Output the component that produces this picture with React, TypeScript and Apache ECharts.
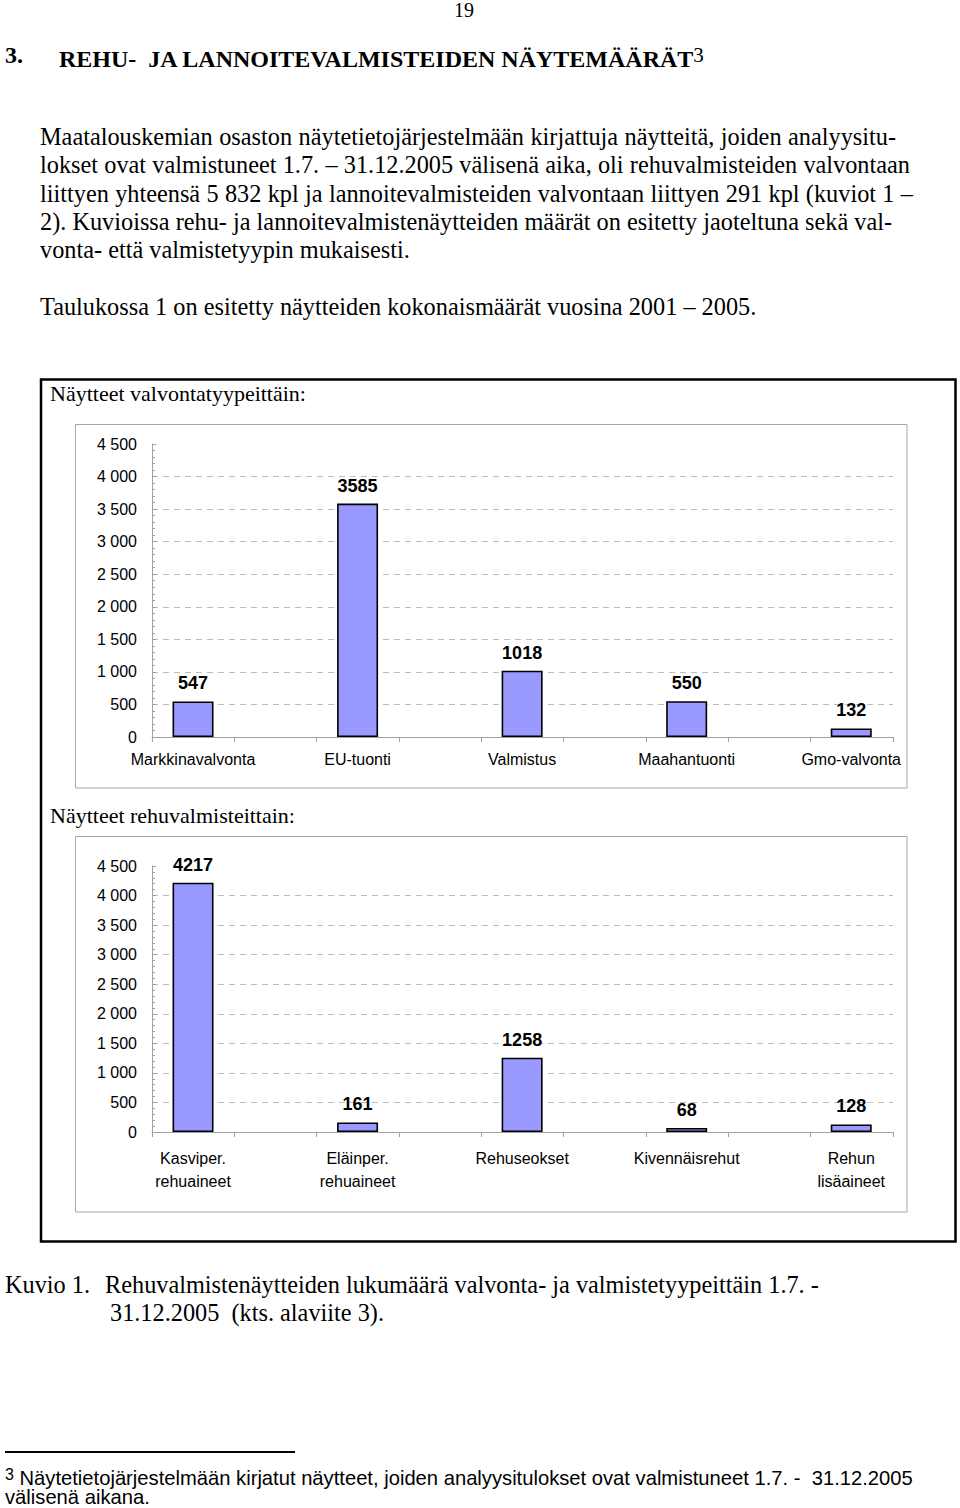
import React, { useEffect, useRef } from "react";
import * as echarts from "echarts";

// ---------- data ----------
const supervisionCategories = ["Markkinavalvonta", "EU-tuonti", "Valmistus", "Maahantuonti", "Gmo-valvonta"];
const supervisionValues = [547, 3585, 1018, 550, 132];
const productCategories = ["Kasviper.\nrehuaineet", "Eläinper.\nrehuaineet", "Rehuseokset", "Kivennäisrehut", "Rehun\nlisäaineet"];
const productValues = [4217, 161, 1258, 68, 128];
const yMin = 0;
const yMax = 4500;
const yInterval = 500;
const frameSlots = ["", "", "", "", "", "", "", "", ""];

const chartTitle1 = "Näytteet valvontatyypeittäin:";
const chartTitle2 = "Näytteet rehuvalmisteittain:";

const SERIF = "'Liberation Serif', 'Times New Roman', serif";
const SANS = "'Liberation Sans', Arial, sans-serif";

const fmt = (v: number) =>
  v >= 1000 ? `${Math.floor(v / 1000)} ${String(v % 1000).padStart(3, "0")}` : String(v);

function buildPanel(idx: number, top: number, bottom: number, cats: string[], vals: number[], labelMargin: number) {
  const H = 1508;
  const W = 960;
  const frameGrid = { left: 152, right: W - 893, top, bottom: H - bottom };
  const barGrid = { left: 110.75, right: W - 933.5, top, bottom: H - bottom };
  const gi = idx * 2;
  const lineColors = ["rgba(0,0,0,0)", ...frameSlots.slice(1).map(() => "#bdbdbd"), "rgba(0,0,0,0)", "rgba(0,0,0,0)"];
  return {
    grids: [frameGrid, barGrid],
    xAxes: [
      {
        gridIndex: gi,
        type: "category",
        data: frameSlots,
        boundaryGap: true,
        axisLine: { show: true, lineStyle: { color: "#a0a0a0", width: 1 } },
        axisTick: { show: true, length: 5, lineStyle: { color: "#a0a0a0" } },
        axisLabel: { show: false },
      },
      {
        gridIndex: gi + 1,
        type: "category",
        data: cats,
        axisLine: { show: false },
        axisTick: { show: false },
        axisLabel: {
          show: true,
          interval: 0,
          margin: labelMargin,
          color: "#000",
          fontFamily: SANS,
          fontSize: 16,
          lineHeight: 23,
        },
      },
    ],
    yAxes: [
      {
        gridIndex: gi,
        type: "value",
        min: yMin,
        max: yMax,
        interval: yInterval,
        axisLine: { show: true, lineStyle: { color: "#a0a0a0", width: 1 } },
        axisTick: { show: true, inside: true, length: 4, lineStyle: { color: "#a0a0a0" } },
        minorTick: { show: true, splitNumber: 5, length: 3, lineStyle: { color: "#a0a0a0" } },
        axisLabel: {
          margin: 15,
          color: "#000",
          fontFamily: SANS,
          fontSize: 16,
          formatter: fmt,
        },
        splitLine: { show: true, lineStyle: { color: lineColors, type: [6, 5], width: 1 } },
      },
      {
        gridIndex: gi + 1,
        type: "value",
        min: yMin,
        max: yMax,
        interval: yInterval,
        show: false,
        splitLine: { show: false },
      },
    ],
    series: [
      {
        type: "bar",
        xAxisIndex: gi + 1,
        yAxisIndex: gi + 1,
        data: vals,
        barWidth: 41,
        itemStyle: { color: "#9999ff", borderColor: "#000", borderWidth: 1.6 },
        label: {
          show: true,
          position: "top",
          distance: 9,
          color: "#000",
          fontFamily: SANS,
          fontWeight: "bold",
          fontSize: 18,
        },
      },
    ],
  };
}

function Chart() {
  const ref = useRef<HTMLDivElement>(null);
  useEffect(() => {
    if (!ref.current) return;
    const chart = echarts.init(ref.current, null, { renderer: "svg" });
    const p1 = buildPanel(0, 444, 737, supervisionCategories, supervisionValues, 11);
    const p2 = buildPanel(1, 866, 1132, productCategories, productValues, 15);
    chart.setOption({
      animation: false,
      backgroundColor: "transparent",
      grid: [...p1.grids, ...p2.grids],
      xAxis: [...p1.xAxes, ...p2.xAxes],
      yAxis: [...p1.yAxes, ...p2.yAxes],
      series: [...p1.series, ...p2.series],
      graphic: [
        {
          type: "rect",
          z: -10,
          shape: { x: 41, y: 379.5, width: 914.5, height: 862 },
          style: { fill: "#fff", stroke: "#000", lineWidth: 2.5 },
        },
        {
          type: "rect",
          z: -9,
          shape: { x: 75.5, y: 424.5, width: 831.5, height: 363.5 },
          style: { fill: "#fff", stroke: "#a8a8a8", lineWidth: 1 },
        },
        {
          type: "rect",
          z: -9,
          shape: { x: 75.5, y: 836.5, width: 831.5, height: 375.5 },
          style: { fill: "#fff", stroke: "#a8a8a8", lineWidth: 1 },
        },
        {
          type: "text",
          x: 50,
          y: 393,
          style: { text: chartTitle1, fill: "#000", font: `22px ${SERIF}`, verticalAlign: "middle" },
        },
        {
          type: "text",
          x: 50,
          y: 815,
          style: { text: chartTitle2, fill: "#000", font: `22px ${SERIF}`, verticalAlign: "middle" },
        },
      ],
    });
    return () => chart.dispose();
  }, []);
  return <div ref={ref} style={{ position: "absolute", left: 0, top: 0, width: 960, height: 1508 }} />;
}

type LineProps = {
  x: number;
  y: number;
  size: number;
  family?: string;
  weight?: string;
  width?: number;
  lh?: number;
  children: React.ReactNode;
};

function Line({ x, y, size, family = SERIF, weight = "normal", width, lh = 1.2, children }: LineProps) {
  const style: React.CSSProperties = {
    position: "absolute",
    left: x,
    top: Math.max(0, y - size * (lh / 2 + 0.05)),
    fontFamily: family,
    fontSize: size,
    fontWeight: weight as any,
    lineHeight: `${size * lh}px`,
    whiteSpace: "nowrap",
    color: "#000",
  };
  if (width) {
    style.width = width;
    style.textAlign = "justify";
    (style as any).textAlignLast = "justify";
  }
  return <div style={style}>{children}</div>;
}

const BODY = 24.3;

export default function App() {
  return (
    <div style={{ position: "absolute", left: 0, top: 0, width: 960, height: 1508, background: "#fff", overflow: "hidden" }}>
      <Chart />
      <Line x={454} y={11} size={20} lh={1}>19</Line>
      <Line x={5} y={57} size={24} weight="bold">3.</Line>
      <Line x={59} y={57} size={24} weight="bold">
        REHU-&nbsp; JA LANNOITEVALMISTEIDEN NÄYTEMÄÄRÄT<span style={{ fontWeight: "normal", fontSize: 21, verticalAlign: "5px" }}>3</span>
      </Line>
      <Line x={40} y={138} size={BODY} width={856}>
        Maatalouskemian osaston näytetietojärjestelmään kirjattuja näytteitä, joiden analyysitu-
      </Line>
      <Line x={40} y={166} size={BODY} width={870}>
        lokset ovat valmistuneet 1.7. – 31.12.2005 välisenä aika, oli rehuvalmisteiden valvontaan
      </Line>
      <Line x={40} y={195} size={BODY} width={873}>
        liittyen yhteensä 5 832 kpl ja lannoitevalmisteiden valvontaan liittyen 291 kpl (kuviot 1 –
      </Line>
      <Line x={40} y={223} size={BODY} width={852}>
        2). Kuvioissa rehu- ja lannoitevalmistenäytteiden määrät on esitetty jaoteltuna sekä val-
      </Line>
      <Line x={40} y={251} size={BODY}>
        vonta- että valmistetyypin mukaisesti.
      </Line>
      <Line x={40} y={308} size={BODY}>
        Taulukossa 1 on esitetty näytteiden kokonaismäärät vuosina 2001 – 2005.
      </Line>
      <Line x={5} y={1286} size={BODY}>
        Kuvio 1.
      </Line>
      <Line x={105} y={1286} size={BODY}>
        Rehuvalmistenäytteiden lukumäärä valvonta- ja valmistetyypeittäin 1.7. -
      </Line>
      <Line x={110} y={1314} size={BODY}>
        31.12.2005&nbsp; (kts. alaviite 3).
      </Line>
      <div style={{ position: "absolute", left: 5, top: 1451, width: 290, height: 1.5, background: "#000" }} />
      <Line x={5} y={1476} size={20.2} family={SANS} lh={1.1}>
        <span style={{ fontSize: 16, verticalAlign: "5px" }}>3</span> Näytetietojärjestelmään kirjatut näytteet, joiden analyysitulokset ovat valmistuneet 1.7. -&nbsp; 31.12.2005
      </Line>
      <Line x={5} y={1498} size={20.2} family={SANS} lh={1.1}>
        välisenä aikana.
      </Line>
    </div>
  );
}
